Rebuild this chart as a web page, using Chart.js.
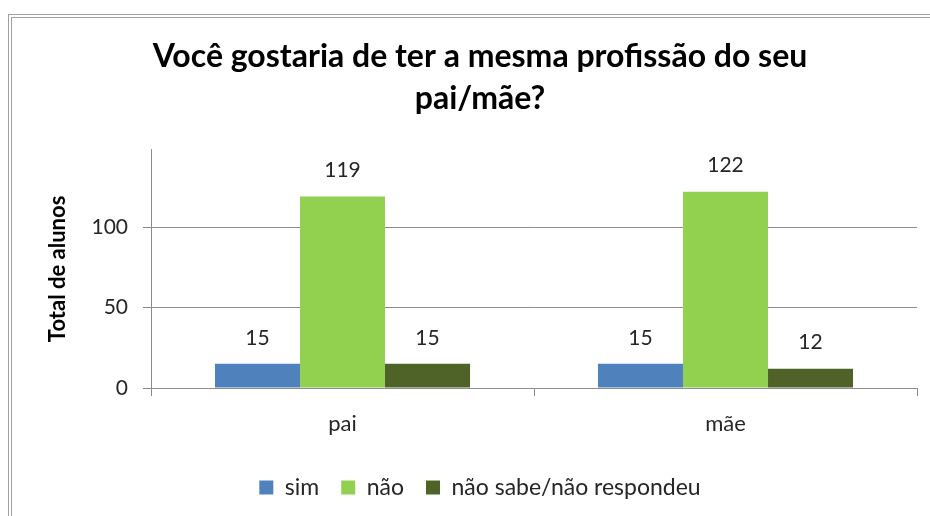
<!DOCTYPE html>
<html>
<head>
<meta charset="utf-8">
<script src="https://cdn.jsdelivr.net/npm/chart.js@4.4.1/dist/chart.umd.min.js"></script>
<style>
  html, body { margin: 0; padding: 0; background: #fff; overflow: hidden; width: 930px; height: 516px; }
  #frame { position: absolute; left: 8px; top: 14px; border: 4px double #a0a0a0; background: #fff; }
  canvas { display: block; }
</style>
</head>
<body>
<div id="frame"><canvas id="chart" width="936" height="530"></canvas></div>
<script>
const categories = ["pai", "mãe"];
const seriesNames = ["sim", "não", "não sabe/não respondeu"];
const sim = [15, 15];
const nao = [119, 122];
const naoSabe = [15, 12];
const yTicks = [0, 50, 100];
const yMax = 148;

const colors = ["#4F81BD", "#92D050", "#4F6228"];
const FONT = "Lato";

// values above the bars
const barLabels = {
  id: "barLabels",
  afterDatasetsDraw(chart) {
    const ctx = chart.ctx;
    ctx.save();
    ctx.font = "21px " + FONT;
    ctx.fillStyle = "#262626";
    ctx.textAlign = "center";
    ctx.textBaseline = "middle";
    chart.data.datasets.forEach((ds, i) => {
      chart.getDatasetMeta(i).data.forEach((bar, j) => {
        ctx.fillText(ds.data[j], bar.x, bar.y - 26);
      });
    });
    ctx.restore();
  }
};

const ctx = document.getElementById("chart").getContext("2d");
new Chart(ctx, {
  type: "bar",
  data: {
    labels: categories,
    datasets: [
      { label: seriesNames[0], data: sim, backgroundColor: colors[0] },
      { label: seriesNames[1], data: nao, backgroundColor: colors[1] },
      { label: seriesNames[2], data: naoSabe, backgroundColor: colors[2] },
    ],
  },
  options: {
    responsive: false,
    animation: false,
    devicePixelRatio: 1,
    layout: { padding: { left: 31, right: 31, top: 0, bottom: 39 } },
    datasets: { bar: { barPercentage: 1, categoryPercentage: 0.666 } },
    plugins: {
      title: {
        display: true,
        text: ["Você gostaria de ter a mesma profissão do seu", "pai/mãe?"],
        color: "#000",
        font: { family: FONT, size: 32, weight: "bold", lineHeight: 1.31 },
        padding: { top: 18, bottom: 30 },
      },
      legend: {
        position: "bottom",
        labels: {
          color: "#262626",
          font: { family: FONT, size: 23 },
          boxWidth: 14,
          boxHeight: 14,
          padding: 22,
        },
      },
      tooltip: { enabled: false },
    },
    scales: {
      x: {
        afterFit: (s) => { s.height = 66; },
        grid: { offset: true, drawOnChartArea: false, drawTicks: true, tickLength: 8, color: "#8c8c8c" },
        border: { color: "#8c8c8c" },
        ticks: { color: "#262626", font: { family: FONT, size: 22 }, padding: 15 },
      },
      y: {
        min: 0,
        max: yMax,
        afterFit: (s) => { s.width = 108; },
        afterBuildTicks: (s) => { s.ticks = yTicks.map((v) => ({ value: v })); },
        grid: { color: "#8c8c8c", tickLength: 8 },
        border: { color: "#8c8c8c" },
        ticks: { color: "#262626", font: { family: FONT, size: 21 }, padding: 15 },
        title: {
          display: true,
          text: "Total de alunos",
          color: "#000",
          font: { family: FONT, size: 22, weight: "bold" },
          padding: { top: 2 },
        },
      },
    },
  },
  plugins: [barLabels],
});
</script>
</body>
</html>
